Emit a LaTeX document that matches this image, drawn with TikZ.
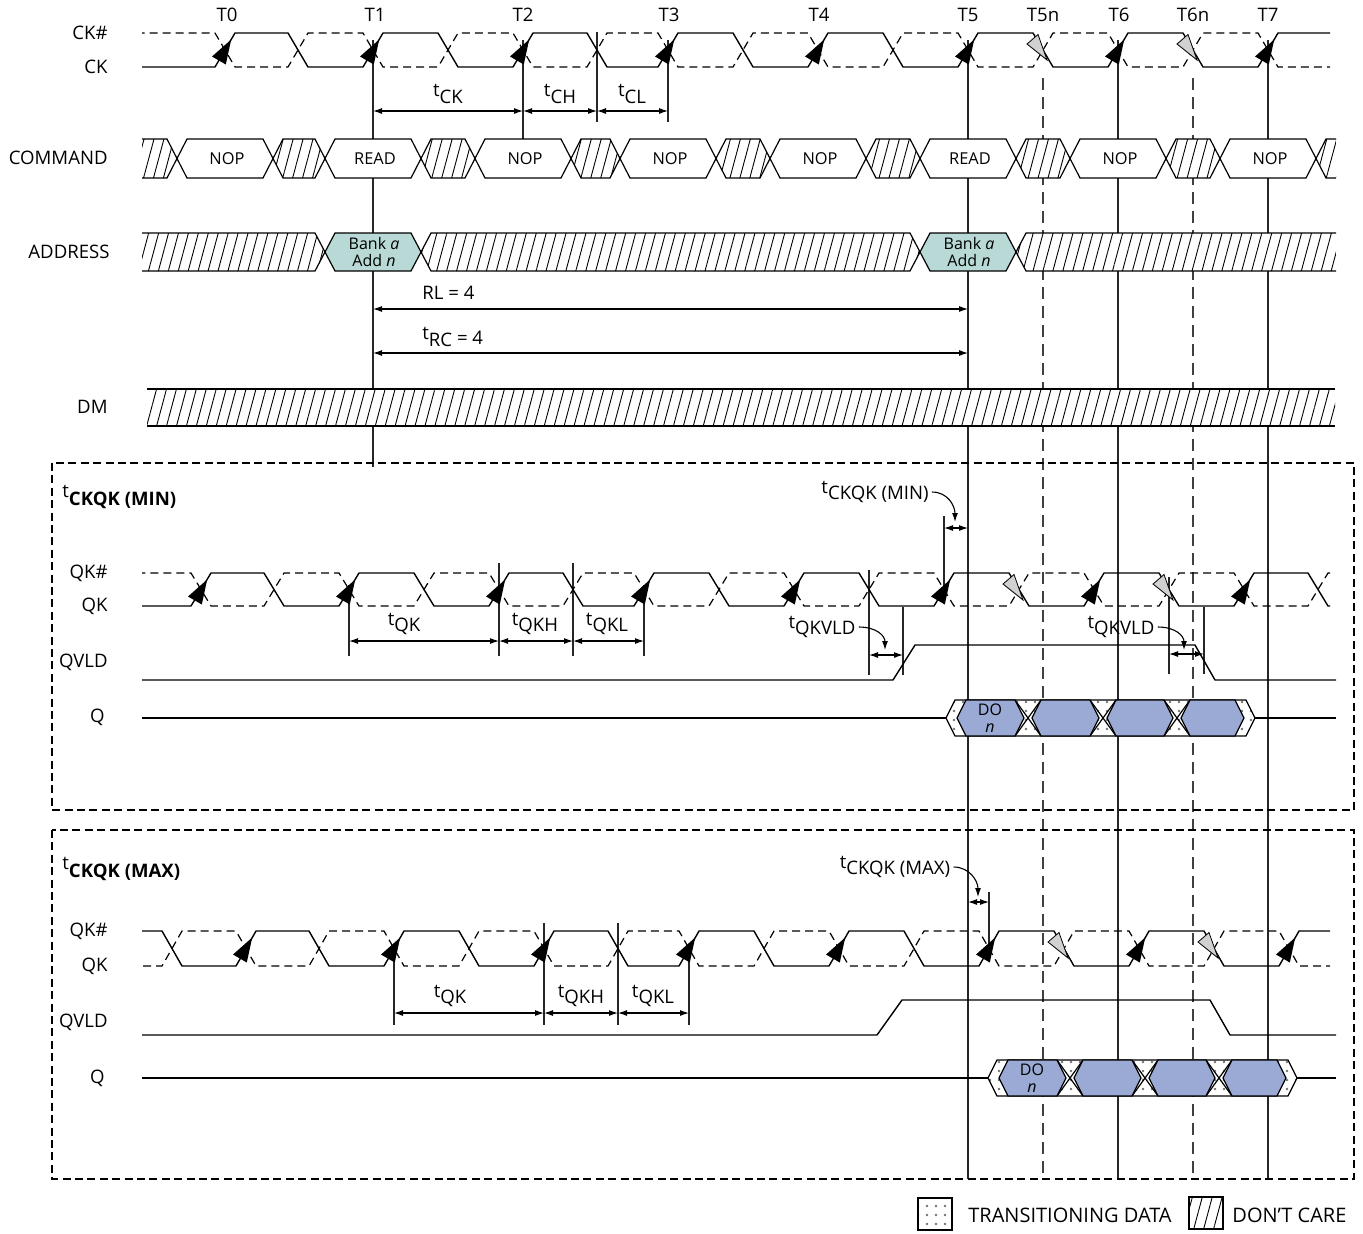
\documentclass[tikz,border=0pt]{standalone}
\usepackage{fontspec}
\setmainfont{Open Sans}
\usetikzlibrary{arrows.meta,patterns.meta}
\definecolor{teal1}{RGB}{184,217,214}
\definecolor{blue1}{RGB}{154,170,212}
\newcommand\myfnt{\fontsize{9.3}{10}\selectfont}
\newcommand\cmdfnt{\fontsize{8.2}{9}\selectfont}
\newcommand\legfnt{\fontsize{10}{11}\selectfont}
\newcommand\smfnt{\fontsize{8}{8.6}\selectfont}
\newcommand\tq[1]{\raisebox{2.2pt}{t}\raisebox{-1.2pt}{#1}}
\newcommand\hexseg[6]{\path[#6] (#1,{(#3+#4)/2}) -- ({#1+#5},#3) -- ({#2-#5},#3) -- (#2,{(#3+#4)/2}) -- ({#2-#5},#4) -- ({#1+#5},#4) -- cycle;}
\newcommand\clkwave[4]{%
  \draw[wv] (0,#2) -- ({#4-10},#2) -- ({#4+10},#3)
    \foreach \xr/\xf in {225/298,373/448,523/597,668/743,818/893,968/1043,1118/1193,1268/1342}
    { -- ({\xr+#1-10},#3) -- ({\xr+#1+10},#2) -- ({\xf+#1-10},#2) -- ({\xf+#1+10},#3) } -- (1400,#3);
  \draw[wvd] (0,#3) -- ({#4-10},#3) -- ({#4+10},#2)
    \foreach \xr/\xf in {225/298,373/448,523/597,668/743,818/893,968/1043,1118/1193,1268/1342}
    { -- ({\xr+#1-10},#2) -- ({\xr+#1+10},#3) -- ({\xf+#1-10},#3) -- ({\xf+#1+10},#2) } -- (1400,#2);}
\newcommand\uparr[2]{\fill ({#1+6.2},{#2+6.5}) -- ({#1+0.8},{#2+31.5}) -- ({#1-13},{#2+23.5}) -- cycle;}
\newcommand\gryarr[2]{\filldraw[fill=black!18,line width=0.4pt] ({#1-16},{#2+11}) -- ({#1-5},{#2+1.5}) -- ({#1+4},{#2+27}) -- cycle;}
\newcommand\qdata[3]{%
  \path[preaction={fill=white},dots,draw,line width=0.6pt] (#1,{(#2+#3)/2}) -- ({#1+9},#2) -- ({#1+300},#2) -- ({#1+309},{(#2+#3)/2}) -- ({#1+300},#3) -- ({#1+9},#3) -- cycle;
  \foreach \xc in {82,157,231} {\draw[line width=0.6pt] ({#1+\xc-13},#2) -- ({#1+\xc+13},#3) ({#1+\xc-13},#3) -- ({#1+\xc+13},#2);}
  \foreach \xa/\xb in {11/78,86/153,161/227,235/298} {\hexseg{#1+\xa}{#1+\xb}{#2}{#3}{9}{eseg}}}
\begin{document}
\begin{tikzpicture}[x=0.5pt,y=-0.5pt,
  wv/.style={line width=0.7pt,line join=round},
  wvd/.style={line width=0.6pt,dash pattern=on 4pt off 2.5pt},
  vl/.style={line width=0.6pt,draw=black!85},
  vld/.style={line width=0.6pt,draw=black!75,dash pattern=on 6pt off 3.5pt},
  dim/.style={line width=0.55pt,>={Latex[length=4.5pt,width=3pt]},<->},
  lead/.style={line width=0.55pt,>={Latex[length=4.5pt,width=3pt]},->},
  hatch/.style={pattern={Lines[angle=75,distance=4.8pt,line width=0.45pt]}},
  hseg/.style={preaction={fill=white},hatch,draw,line width=0.6pt},
  hfill/.style={preaction={fill=white},hatch},
  bseg/.style={fill=white,draw,line width=0.6pt},
  aseg/.style={fill=teal1,draw,line width=0.6pt},
  eseg/.style={fill=blue1,draw,line width=0.6pt},
  dots/.style={pattern={Dots[distance=4.5pt,radius=0.65pt]},pattern color=black!55},
  frame/.style={line width=1.1pt,dash pattern=on 4pt off 2.2pt},
  lbl/.style={font=\myfnt,inner sep=0pt},
  cmd/.style={font=\cmdfnt,inner sep=0pt},
  leg/.style={font=\legfnt,inner sep=0pt},
  sml/.style={font=\smfnt,inner sep=0pt,align=center},
  bus/.style={line width=0.6pt},
]
\useasboundingbox (0,0) rectangle (1363,1233);
\fill[white] (0,0) rectangle (1363,1233);

% ---------- vertical reference lines ----------
\draw[vl] (373,40) -- (373,467);
\draw[vl] (523,40) -- (523,139);
\draw[vl] (597,32) -- (597,122);
\draw[vl] (668,40) -- (668,122);
\foreach \x in {968,1118,1268} \draw[vl] (\x,40) -- (\x,1179);
\foreach \x in {1043,1193} \draw[vld] (\x,78) -- (\x,1179);
% MIN extras
\draw[vl] (349,585) -- (349,656);
\draw[vl] (499,563) -- (499,656);
\draw[vl] (573,563) -- (573,656);
\draw[vl] (644,585) -- (644,656);
\draw[vl] (869,570) -- (869,675);
\draw[vl] (903,607) -- (903,675);
\draw[vl] (1169,577) -- (1169,674);
\draw[vl] (1204,607) -- (1204,674);
\draw[vl] (944,516) -- (944,590);
% MAX extras
\draw[vl] (394,950) -- (394,1025);
\draw[vl] (544,923) -- (544,1025);
\draw[vl] (618,923) -- (618,1025);
\draw[vl] (689,950) -- (689,1025);
\draw[vl] (989,892) -- (989,948);

% ---------- frames ----------
\draw[frame] (52,463) rectangle (1354,810);
\draw[frame] (52,830) rectangle (1354,1179);

% ---------- clocks ----------
\begin{scope}
\clip (142,0) rectangle (1330,1233);
\clkwave{0}{33}{67}{60}
\clkwave{(-24)}{573}{606}{127}
\clkwave{21}{931}{966}{172}
\end{scope}
\foreach \t in {225,373,523,668,818,968,1118,1268} {\uparr{\t}{33} \uparr{\t-24}{573} \uparr{\t+21}{931}}
\foreach \t in {1043,1193} {\gryarr{\t}{33} \gryarr{\t-24}{573} \gryarr{\t+21}{931}}

% ---------- COMMAND bus ----------
\path[hfill] (142,139) -- (167,139) -- (177,158.5) -- (167,178) -- (142,178) -- cycle;
\draw[bus] (142,139) -- (167,139) -- (177,158.5) -- (167,178) -- (142,178);
\path[hfill] (1336,139) -- (1326,139) -- (1316,158.5) -- (1326,178) -- (1336,178) -- cycle;
\draw[bus] (1336,139) -- (1326,139) -- (1316,158.5) -- (1326,178) -- (1336,178);
\foreach \a/\b in {273/325,421/475,571/620,716/770,866/920,1016/1070,1166/1220} {\hexseg{\a}{\b}{139}{178}{10}{hseg}}
\foreach \a/\b/\s [count=\i] in {177/273/NOP,325/421/READ,475/571/NOP,620/716/NOP,770/866/NOP,920/1016/READ,1070/1166/NOP,1220/1316/NOP}
  {\hexseg{\a}{\b}{139}{178}{10}{bseg} \node[cmd] (cmd\i) at ({(\a+\b)/2+2},159) {\s};}

% ---------- ADDRESS bus ----------
\path[hfill] (142,233) -- (315,233) -- (325,252) -- (315,271) -- (142,271) -- cycle;
\draw[bus] (142,233) -- (315,233) -- (325,252) -- (315,271) -- (142,271);
\path[hfill] (1336,233) -- (1026,233) -- (1016,252) -- (1026,271) -- (1336,271) -- cycle;
\draw[bus] (1336,233) -- (1026,233) -- (1016,252) -- (1026,271) -- (1336,271);
\hexseg{421}{920}{233}{271}{10}{hseg}
\hexseg{325}{421}{233}{271}{10}{aseg}
\hexseg{920}{1016}{233}{271}{10}{aseg}
\node[sml] (adr1) at (374,252) {Bank \textit{a}\\Add \textit{n}};
\node[sml] (adr2) at (969,252) {Bank \textit{a}\\Add \textit{n}};

% ---------- DM ----------
\path[hfill] (147,389) rectangle (1335,426);
\draw[bus] (147,389) -- (1335,389) (147,426) -- (1335,426);

% ---------- QVLD and Q ----------
\draw[wv] (142,680) -- (893,680) -- (915,645) -- (1195,645) -- (1215,680) -- (1336,680);
\draw[wv] (142,1035) -- (877,1035) -- (902,1000) -- (1210,1000) -- (1230,1035) -- (1336,1035);
\draw[wv] (142,718) -- (946,718) (1255,718) -- (1336,718);
\draw[wv] (142,1078) -- (988,1078) (1297,1078) -- (1336,1078);
\qdata{946}{700}{736}
\qdata{988}{1060}{1096}
\node[sml] (do1) at (990,718) {DO\\\textit{n}};
\node[sml] (do2) at (1032,1078) {DO\\\textit{n}};

% ---------- dimension arrows ----------
\draw[dim] (373,111) -- (523,111);
\draw[dim] (523,111) -- (597,111);
\draw[dim] (597,111) -- (668,111);
\draw[dim] (373,309) -- (968,309);
\draw[dim] (373,353) -- (968,353);
\draw[dim] (349,641) -- (499,641);
\draw[dim] (499,641) -- (573,641);
\draw[dim] (573,641) -- (644,641);
\draw[dim] (869,655) -- (903,655);
\draw[dim] (1169,654) -- (1204,654);
\draw[dim] (944,528) -- (968,528);
\draw[dim] (394,1013) -- (544,1013);
\draw[dim] (544,1013) -- (618,1013);
\draw[dim] (618,1013) -- (689,1013);
\draw[dim] (968,902) -- (989,902);

% ---------- labels ----------
\foreach \x/\s [count=\i] in {227/T0,375/T1,523/T2,669/T3,819/T4,968/T5,1043/T5n,1119/T6,1193/T6n,1268/T7}
  \node[lbl] (top\i) at (\x,15) {\s};
\node[lbl,anchor=east] (lck1) at (108,33) {CK\#};
\node[lbl,anchor=east] (lck2) at (108,67) {CK};
\node[lbl,anchor=east] (lcmd) at (108,158) {COMMAND};
\node[lbl,anchor=east] (ladr) at (110,252) {ADDRESS};
\node[lbl,anchor=east] (ldm) at (108,407) {DM};
\node[lbl,anchor=east] (lqka) at (108,573) {QK\#};
\node[lbl,anchor=east] (lqkb) at (108,606) {QK};
\node[lbl,anchor=east] (lvlda) at (108,662) {QVLD};
\node[lbl,anchor=east] (lqa) at (105,717) {Q};
\node[lbl,anchor=east] (lqkc) at (108,931) {QK\#};
\node[lbl,anchor=east] (lqkd) at (108,966) {QK};
\node[lbl,anchor=east] (lvldb) at (108,1022) {QVLD};
\node[lbl,anchor=east] (lqb) at (105,1078) {Q};

\node[lbl] (tck) at (448,94) {\tq{CK}};
\node[lbl] (tch) at (560,94) {\tq{CH}};
\node[lbl] (tcl) at (632,94) {\tq{CL}};
\node[lbl,anchor=west] (rl) at (422,293) {RL = 4};
\node[lbl,anchor=west] (trc) at (422,337) {\tq{RC} = 4};

\node[lbl,anchor=west] (tmin) at (62,497) {\raisebox{3.8pt}{t}\textbf{CKQK (MIN)}};
\node[lbl,anchor=west] (tmax) at (62,869) {\raisebox{3.8pt}{t}\textbf{CKQK (MAX)}};

\node[lbl] (tqk1) at (404,624) {\tq{QK}};
\node[lbl] (tqkh1) at (535,624) {\tq{QKH}};
\node[lbl] (tqkl1) at (607,624) {\tq{QKL}};
\node[lbl] (tqk2) at (450,996) {\tq{QK}};
\node[lbl] (tqkh2) at (581,996) {\tq{QKH}};
\node[lbl] (tqkl2) at (653,996) {\tq{QKL}};

\node[lbl] (ckqkmin) at (875,492) {\tq{CKQK (MIN)}};
\coordinate (ckqkmintip) at (955,522);
\draw[lead] ([xshift=1.5pt]ckqkmin.east) .. controls +(16,0) and +(0,-16) .. (ckqkmintip);
\node[lbl] (ckqkmax) at (895,867) {\tq{CKQK (MAX)}};
\coordinate (ckqkmaxtip) at (978,897);
\draw[lead] ([xshift=1.5pt]ckqkmax.east) .. controls +(16,0) and +(0,-16) .. (ckqkmaxtip);
\node[lbl] (vld1) at (822,627) {\tq{QKVLD}};
\coordinate (vld1tip) at (885,650);
\draw[lead] ([xshift=1.5pt]vld1.east) .. controls +(18,0) and +(0,-14) .. (vld1tip);
\node[lbl] (vld2) at (1121,627) {\tq{QKVLD}};
\coordinate (vld2tip) at (1184,650);
\draw[lead] ([xshift=1.5pt]vld2.east) .. controls +(18,0) and +(0,-14) .. (vld2tip);

% ---------- legend ----------
\path[preaction={fill=white},dots,draw,line width=0.6pt] (918,1198) rectangle (952,1230);
\node[leg,anchor=west] (legtd) at (968,1215) {TRANSITIONING DATA};
\path[hseg] (1189,1197) rectangle (1223,1229);
\node[leg,anchor=west] (legdc) at (1232,1215) {DON’T CARE};
\end{tikzpicture}
\end{document}
